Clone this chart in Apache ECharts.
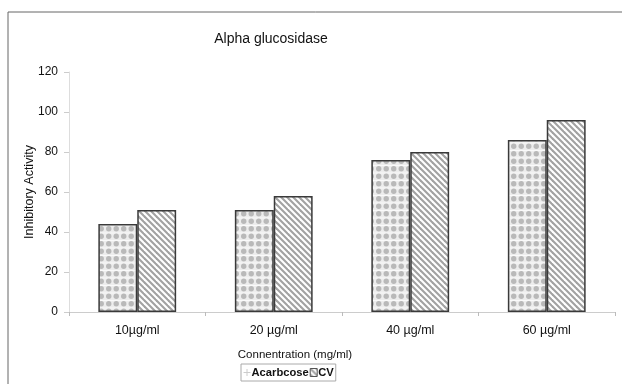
<!DOCTYPE html>
<html><head><meta charset="utf-8">
<script src="https://cdn.jsdelivr.net/npm/echarts@6/dist/echarts.min.js"></script>
<style>html,body{margin:0;padding:0;background:#fff}#c{width:622px;height:384px}</style>
</head><body><div id="c"></div>
<script>
const categories = ['10µg/ml', '20 µg/ml', '40 µg/ml', '60 µg/ml'];
const acarbcose = [44, 51, 76, 86];
const cv = [51, 58, 80, 96];
const yTicks = [0, 20, 40, 60, 80, 100, 120];

function dotPattern() {
  const c = document.createElement('canvas');
  c.width = 15; c.height = 15;
  const g = c.getContext('2d');
  g.fillStyle = '#ededed'; g.fillRect(0, 0, 15, 15);
  g.fillStyle = '#fafafa';
  g.fillRect(0, 0, 15, 1); g.fillRect(0, 7.5, 15, 1);
  g.fillStyle = '#b9b9b9';
  [[3.75,3.75],[11.25,3.75],[3.75,11.25],[11.25,11.25]].forEach(p => {
    g.beginPath(); g.arc(p[0], p[1], 2.7, 0, Math.PI * 2); g.fill();
  });
  return c;
}
function stripePattern() {
  const s = 12;
  const c = document.createElement('canvas');
  c.width = s; c.height = s;
  const g = c.getContext('2d');
  g.fillStyle = '#fff'; g.fillRect(0, 0, s, s);
  g.strokeStyle = '#a2a2a2'; g.lineWidth = 2.1;
  for (let k = -2; k <= 2; k++) {
    g.beginPath(); g.moveTo(k * 6 - 1, -1); g.lineTo(k * 6 + s + 1, s + 1); g.stroke();
  }
  return c;
}

const chart = echarts.init(document.getElementById('c'));
const font = 'Liberation Sans, Arial, sans-serif';
chart.setOption({
  animation: false,
  graphic: [{
    type: 'rect', shape: { x: 8, y: 12, width: 640, height: 400 },
    style: { fill: 'none', stroke: '#666', lineWidth: 1 }, silent: true
  }],
  title: [
    { text: 'Alpha glucosidase', left: 266, top: 27, textAlign: 'center',
      textStyle: { fontFamily: font, fontSize: 14, fontWeight: 'normal', color: '#111' } },
    { text: 'Connentration (mg/ml)', left: 290, top: 344, textAlign: 'center',
      textStyle: { fontFamily: font, fontSize: 11.5, fontWeight: 'normal', color: '#111' } }
  ],
  legend: {
    left: 241, top: 364, itemWidth: 7, itemHeight: 8, itemGap: 1,
    borderColor: '#aaa', borderWidth: 1, padding: [3, 2, 3, 2],
    textStyle: { fontFamily: font, fontSize: 11.2, fontWeight: 'bold', color: '#111', padding: [0, 0, 0, -4] },
    data: [
      { name: 'Acarbcose', icon: 'path://M4,2L4,6M2,4L6,4', itemStyle: { color: '#ddd', borderColor: '#ccc', borderWidth: 1 } },
      { name: 'CV', icon: 'rect', itemStyle: { borderColor: '#555', borderWidth: 1 } }
    ]
  },
  grid: { left: 69, right: 7, top: 72, bottom: 72, containLabel: false },
  xAxis: {
    type: 'category', data: categories,
    axisLine: { lineStyle: { color: '#ccc', width: 1 } },
    axisTick: { show: true, length: 4, lineStyle: { color: '#bbb' } },
    axisLabel: { fontFamily: font, fontSize: 12.5, color: '#111', margin: 12 }
  },
  yAxis: {
    type: 'value', min: 0, max: 120, interval: 20,
    name: 'Inhibitory Activity', nameLocation: 'middle', nameGap: 33, nameMoveOverlap: false,
    nameTextStyle: { fontFamily: font, fontSize: 12.5, color: '#111' },
    axisLine: { show: true, lineStyle: { color: '#ddd' } },
    axisTick: { show: true, length: 5, lineStyle: { color: '#ccc' } },
    axisLabel: { fontFamily: font, fontSize: 12, color: '#111', margin: 11,
      formatter: v => yTicks.includes(v) ? String(v) : '' },
    splitLine: { show: false }
  },
  series: [
    { name: 'Acarbcose', type: 'bar', data: acarbcose, barGap: '0%', barCategoryGap: '43%',
      itemStyle: { color: { image: dotPattern(), repeat: 'repeat' }, borderColor: '#3a3a3a', borderWidth: 1.5 } },
    { name: 'CV', type: 'bar', data: cv,
      itemStyle: { color: { image: stripePattern(), repeat: 'repeat' }, borderColor: '#3a3a3a', borderWidth: 1.5 } }
  ]
});
</script></body></html>
